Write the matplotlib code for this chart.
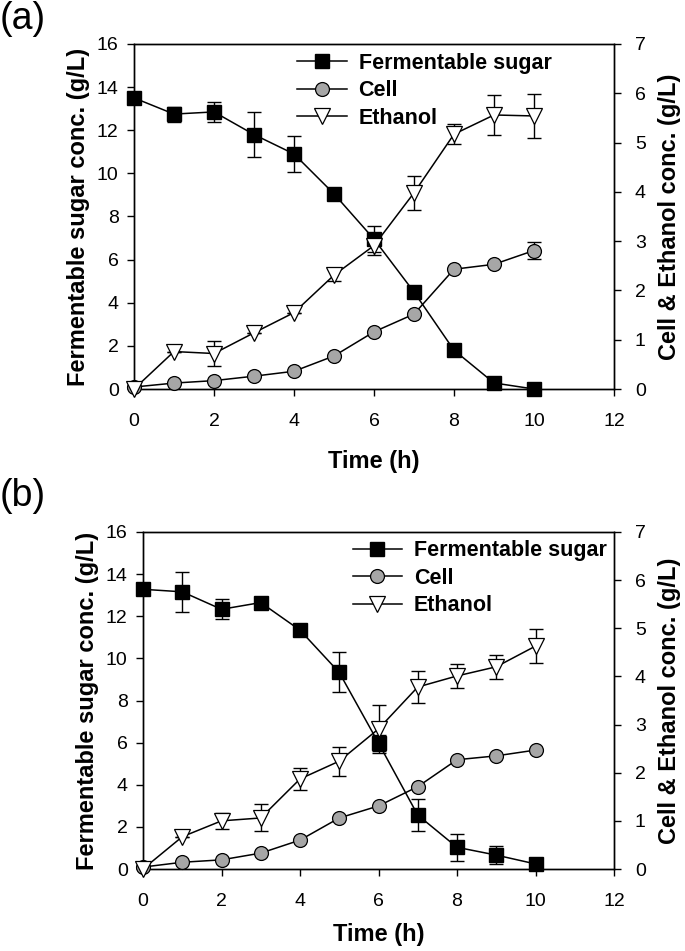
import matplotlib
matplotlib.use('Agg')
import numpy as np
import matplotlib.pyplot as plt

plt.rcParams['font.family'] = ['Liberation Sans', 'DejaVu Sans']

time_h = [0, 1, 2, 3, 4, 5, 6, 7, 8, 9, 10]

# panel (a)
sugar_a = [13.5, 12.75, 12.85, 11.8, 10.9, 9.05, 6.95, 4.5, 1.8, 0.28, 0.0]
sugar_a_err = [0, 0.35, 0.45, 1.05, 0.85, 0, 0.6, 0, 0, 0, 0]
cell_a = [0.04, 0.12, 0.17, 0.26, 0.36, 0.67, 1.16, 1.52, 2.43, 2.53, 2.81]
cell_a_err = [0, 0, 0, 0, 0, 0, 0, 0, 0, 0, 0.17]
ethanol_a = [0.0, 0.76, 0.72, 1.14, 1.55, 2.31, 2.91, 3.98, 5.17, 5.56, 5.54]
ethanol_a_err = [0, 0, 0.25, 0, 0, 0.12, 0.19, 0.35, 0.2, 0.4, 0.45]

# panel (b)
sugar_b = [13.28, 13.16, 12.33, 12.65, 11.34, 9.33, 5.98, 2.56, 1.03, 0.66, 0.24]
sugar_b_err = [0, 0.95, 0.47, 0, 0.3, 0.95, 0.4, 0.77, 0.63, 0.43, 0]
cell_b = [0.04, 0.14, 0.19, 0.33, 0.6, 1.06, 1.31, 1.71, 2.27, 2.35, 2.47]
cell_b_err = [0, 0, 0, 0, 0, 0, 0, 0, 0, 0, 0]
ethanol_b = [0.0, 0.67, 1.0, 1.06, 1.87, 2.24, 2.91, 3.78, 4.01, 4.2, 4.63]
ethanol_b_err = [0, 0, 0.17, 0.28, 0.22, 0.3, 0.5, 0.33, 0.24, 0.25, 0.36]

series_names = ['Fermentable sugar', 'Cell', 'Ethanol']
x_ticks = [0, 2, 4, 6, 8, 10, 12]
left_ticks = [0, 2, 4, 6, 8, 10, 12, 14, 16]
right_ticks = [0, 1, 2, 3, 4, 5, 6, 7]


def draw_panel(ax, sugar, sugar_err, cell, cell_err, eth, eth_err, legend_pos, xpad):
    ax2 = ax.twinx()
    lw = 1.1
    ms = 10
    eb = dict(fmt='none', ecolor='black', elinewidth=1.0, capsize=5, capthick=1.0)

    ax.errorbar(time_h, sugar, yerr=sugar_err, zorder=2, **eb)
    h1, = ax.plot(time_h, sugar, '-s', color='black', lw=lw, ms=ms,
                  mfc='black', mec='black', zorder=3, clip_on=False)

    ax2.errorbar(time_h, cell, yerr=cell_err, zorder=2, **eb)
    h2, = ax2.plot(time_h, cell, '-o', color='black', lw=lw, ms=ms,
                   mfc='#a6a6a6', mec='black', mew=0.9, zorder=3, clip_on=False)
    ax2.errorbar(time_h, eth, yerr=eth_err, zorder=2, **eb)
    h3, = ax2.plot(time_h, eth, '-v', color='black', lw=lw, ms=ms + 1,
                   mfc='white', mec='black', mew=0.9, zorder=4, clip_on=False)

    ax.set_xlim(0, 12)
    ax.set_ylim(0, 16)
    ax2.set_ylim(0, 7)
    ax.set_xticks(x_ticks)
    ax.set_yticks(left_ticks)
    ax2.set_yticks(right_ticks)

    ax.tick_params(axis='x', direction='out', length=5, width=1, labelsize=14, pad=12)
    ax.tick_params(axis='y', direction='out', length=5, width=1, labelsize=14, pad=6)
    ax2.tick_params(axis='y', direction='out', length=5, width=1, labelsize=14, pad=10)
    for a in (ax, ax2):
        for s in a.spines.values():
            s.set_linewidth(1.0)

    ax.set_xlabel('Time (h)', fontsize=17, fontweight='bold', labelpad=xpad)
    ax.set_ylabel('Fermentable sugar conc. (g/L)', fontsize=17, fontweight='bold', labelpad=5)
    ax2.set_ylabel('Cell & Ethanol conc. (g/L)', fontsize=17, fontweight='bold', labelpad=9)

    ax2.legend([h1, h2, h3], series_names, loc='upper left', bbox_to_anchor=legend_pos,
               frameon=False, prop={'weight': 'bold', 'size': 15.5},
               handlelength=2.3, handletextpad=0.55, labelspacing=0.3,
               borderaxespad=0, borderpad=0)


fig = plt.figure(figsize=(6.85, 9.51), dpi=100)
ax_a = fig.add_axes([134 / 685, 1 - 389 / 951, 480 / 685, 345 / 951])
ax_b = fig.add_axes([143 / 685, 1 - 869 / 951, 471 / 685, 337 / 951])

draw_panel(ax_a, sugar_a, sugar_a_err, cell_a, cell_a_err, ethanol_a, ethanol_a_err,
           (0.34, 0.975), 15)
draw_panel(ax_b, sugar_b, sugar_b_err, cell_b, cell_b_err, ethanol_b, ethanol_b_err,
           (0.445, 0.975), 10)

fig.text(0.0, 1 - 1 / 951, '(a)', fontsize=27, ha='left', va='top')
fig.text(0.0, 1 - 478 / 951, '(b)', fontsize=27, ha='left', va='top')

fig.savefig('out.png', dpi=100)
